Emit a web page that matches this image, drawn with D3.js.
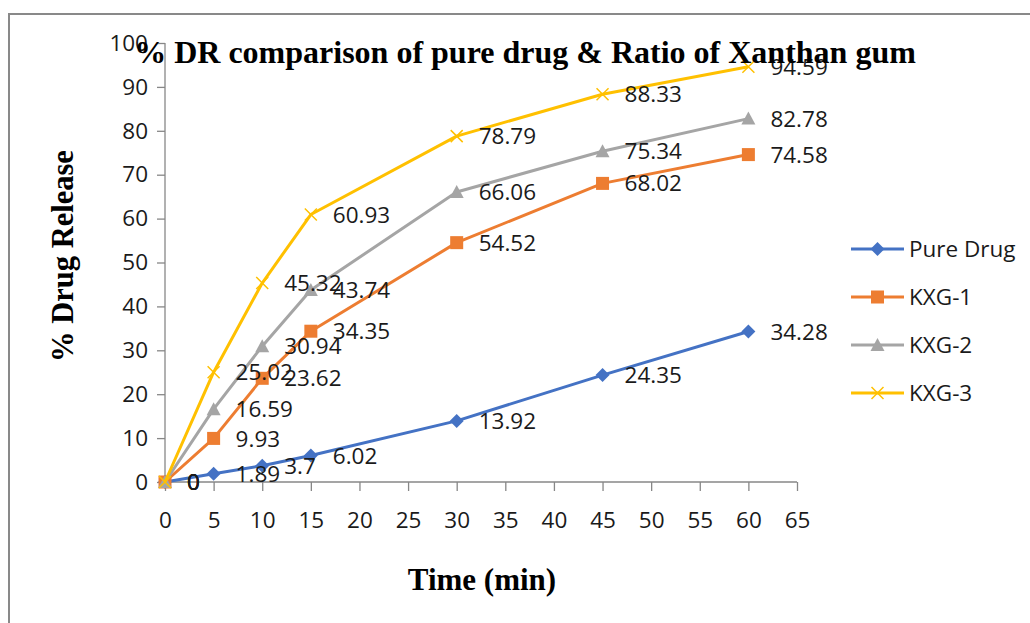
<!DOCTYPE html>
<html><head><meta charset="utf-8">
<script src="https://cdn.jsdelivr.net/npm/d3@7"></script>
<style>body{margin:0;background:#fff}</style>
</head><body>
<svg id="c" width="1030" height="623"></svg>
<script>
const times = [0, 5, 10, 15, 30, 45, 60];
const pureDrug = [0, 1.89, 3.7, 6.02, 13.92, 24.35, 34.28];
const kxg1 = [0, 9.93, 23.62, 34.35, 54.52, 68.02, 74.58];
const kxg2 = [0, 16.59, 30.94, 43.74, 66.06, 75.34, 82.78];
const kxg3 = [0, 25.02, 45.32, 60.93, 78.79, 88.33, 94.59];
const seriesNames = ["Pure Drug", "KXG-1", "KXG-2", "KXG-3"];
const xTicks = d3.range(0, 66, 5);
const yTicks = d3.range(0, 101, 10);

const colors = ["#4472C4", "#ED7D31", "#A5A5A5", "#FFC000"];
const markers = ["diamond", "square", "triangle", "cross"];
const series = [pureDrug, kxg1, kxg2, kxg3].map((v, i) => ({
  name: seriesNames[i], color: colors[i], marker: markers[i],
  pts: v.map((y, j) => ({x: times[j], y}))
}));

const svg = d3.select("#c");
const font = "'Open Sans', sans-serif";
const serif = "'Liberation Serif', 'Times New Roman', serif";
const fs = 22.5;

// outer border
svg.append("rect").attr("x", 9).attr("y", 14).attr("width", 1040).attr("height", 640)
  .attr("fill", "none").attr("stroke", "#898989").attr("stroke-width", 2);

const x = d3.scaleLinear().domain([0, 65]).range([165, 797]);
const y = d3.scaleLinear().domain([0, 100]).range([482, 43]);
const axisColor = "#878787";

// y axis
const ya = svg.append("g").attr("transform", "translate(165,0)")
  .call(d3.axisLeft(y).tickValues(yTicks).tickSize(8).tickPadding(9).tickFormat(d3.format("d")));
ya.select(".domain").attr("stroke", axisColor).attr("stroke-width", 1.3).attr("d", `M0,${y(100)}V${y(0)}`);
ya.selectAll(".tick line").attr("stroke", axisColor).attr("stroke-width", 1.3);
ya.selectAll(".tick text").attr("font-family", font).attr("font-size", fs).attr("fill", "#1a1a1a");

// x axis
const xa = svg.append("g").attr("transform", "translate(0,482)")
  .call(d3.axisBottom(x).tickValues(xTicks).tickSize(9).tickPadding(21).tickFormat(d3.format("d")));
xa.select(".domain").attr("stroke", axisColor).attr("stroke-width", 1.3).attr("d", `M${x(0)},0H${x(65)}`);
xa.selectAll(".tick line").attr("stroke", axisColor).attr("stroke-width", 1.3);
xa.selectAll(".tick text").attr("font-family", font).attr("font-size", fs).attr("fill", "#1a1a1a");

function drawMarker(g, type, color, cx, cy) {
  if (type === "diamond") {
    g.append("path").attr("d", `M${cx},${cy-7}L${cx+7},${cy}L${cx},${cy+7}L${cx-7},${cy}Z`).attr("fill", color);
  } else if (type === "square") {
    g.append("rect").attr("x", cx-6.5).attr("y", cy-6.5).attr("width", 13).attr("height", 13).attr("fill", color);
  } else if (type === "triangle") {
    g.append("path").attr("d", `M${cx},${cy-7}L${cx+7},${cy+6}L${cx-7},${cy+6}Z`).attr("fill", color);
  } else {
    g.append("path").attr("d", `M${cx-6},${cy-6}L${cx+6},${cy+6}M${cx-6},${cy+6}L${cx+6},${cy-6}`)
      .attr("stroke", color).attr("stroke-width", 1.5).attr("fill", "none");
  }
}

const line = d3.line().x(d => x(d.x)).y(d => y(d.y));
series.forEach(s => {
  const g = svg.append("g");
  g.append("path").datum(s.pts).attr("d", line).attr("fill", "none")
    .attr("stroke", s.color).attr("stroke-width", 3).attr("stroke-linejoin", "round");
  s.pts.forEach(p => drawMarker(g, s.marker, s.color, x(p.x), y(p.y)));
});
// data labels
series.forEach(s => {
  s.pts.forEach(p => {
    svg.append("text").attr("x", x(p.x) + 22).attr("y", y(p.y)).attr("dy", "0.36em")
      .attr("font-family", font).attr("font-size", fs).attr("fill", "#1a1a1a")
      .text(d3.format("")(p.y));
  });
});

// title
svg.append("text").attr("x", 525).attr("y", 63).attr("text-anchor", "middle")
  .attr("font-family", serif).attr("font-weight", "bold").attr("font-size", 32)
  .text("% DR comparison of pure drug & Ratio of Xanthan gum");
// axis titles
svg.append("text").attr("transform", "translate(73,256) rotate(-90)").attr("text-anchor", "middle")
  .attr("font-family", serif).attr("font-weight", "bold").attr("font-size", 30.5).text("% Drug Release");
svg.append("text").attr("x", 482).attr("y", 590).attr("text-anchor", "middle")
  .attr("font-family", serif).attr("font-weight", "bold").attr("font-size", 31).text("Time (min)");

// legend
series.forEach((s, i) => {
  const ly = 249 + i * 48;
  const g = svg.append("g");
  g.append("line").attr("x1", 851).attr("x2", 904).attr("y1", ly).attr("y2", ly)
    .attr("stroke", s.color).attr("stroke-width", 3);
  drawMarker(g, s.marker, s.color, 877.5, ly);
  g.append("text").attr("x", 909).attr("y", ly).attr("dy", "0.36em")
    .attr("font-family", font).attr("font-size", fs).attr("fill", "#1a1a1a").text(s.name);
});
</script>
</body></html>
